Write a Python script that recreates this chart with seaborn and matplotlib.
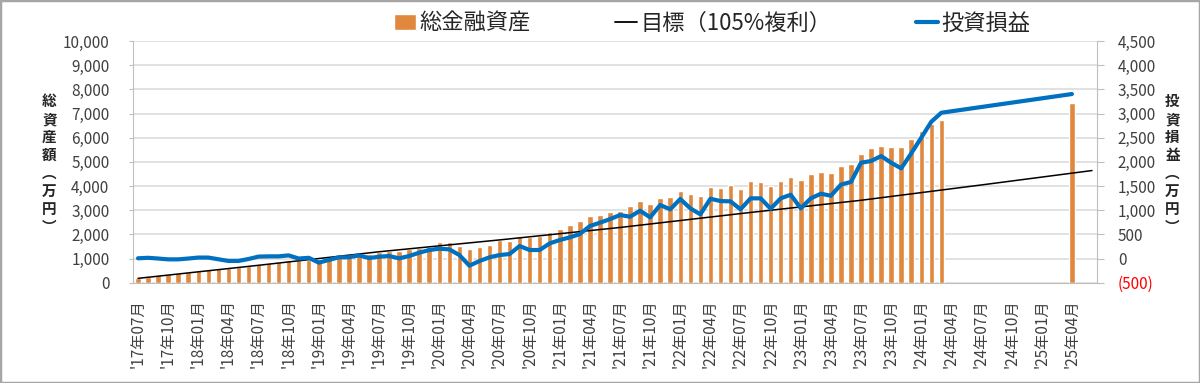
import numpy as np
import pandas as pd
import matplotlib
matplotlib.use("Agg")
import matplotlib.pyplot as plt
from matplotlib.patches import Patch, Rectangle
from matplotlib.lines import Line2D
import seaborn as sns

# ---- categories: every month from 2017/07 to 2025/06 ----
months = [f"'{d:%y}年{d:%m}月" for d in pd.date_range("2017-07-01", "2025-06-01", freq="MS")]

# ---- 総金融資産 (万円), monthly up to 2024/03 plus 2025/04 ----
asset_months = months[:81] + ["'25年04月"]
asset_values = [
    207, 250, 318, 347, 414, 455, 497, 554, 596, 590, 637, 703,
    761, 827, 856, 939, 939, 940, 968, 1000, 1105, 1146, 1233, 1200,
    1283, 1324, 1310, 1380, 1448, 1490, 1697, 1697, 1531, 1407, 1465, 1572,
    1767, 1738, 1932, 1878, 1932, 2098, 2222, 2374, 2553, 2747, 2788, 2915,
    2966, 3173, 3367, 3243, 3504, 3533, 3794, 3670, 3587, 3947, 3918, 4030,
    3863, 4195, 4180, 4001, 4220, 4386, 4249, 4485, 4593, 4551, 4828, 4930,
    5339, 5573, 5656, 5601, 5615, 5946, 6277, 6553, 6745,
    7448,
]

# ---- 投資損益 (万円), right axis ----
pnl_months = asset_months
pnl_values = [
    5, 15, 0, -17, -17, 0, 20, 20, -15, -50, -50, -10,
    40, 45, 45, 65, 0, 15, -85, -30, 25, 25, 65, 10,
    37, 52, 4, 52, 120, 176, 203, 190, 72, -148, -52, 25,
    72, 93, 258, 176, 176, 314, 383, 438, 507, 672, 741, 815,
    900, 865, 989, 852, 1107, 1018, 1231, 1038, 914, 1237, 1189, 1183,
    1018, 1245, 1245, 1030, 1245, 1320, 1038, 1245, 1341, 1299, 1528, 1585,
    1982, 2017, 2120, 1982, 1865, 2175, 2500, 2830, 3016,
    3403,
]

# ---- 目標 (105%複利), read at yearly points ----
target_months = ["'17年07月", "'18年07月", "'19年07月", "'20年07月", "'21年07月",
                 "'22年07月", "'23年07月", "'24年07月", "'25年06月"]
target_values = [180, 720, 1280, 1770, 2285, 2860, 3410, 4045, 4640]

plt.rcParams["font.family"] = ["Noto Sans CJK JP", "DejaVu Sans"]
sns.set_style("white")
plt.rcParams["font.family"] = ["Noto Sans CJK JP", "DejaVu Sans"]

BAR_COLOR = "#E0883D"
BLUE = "#0070C0"
GRID = "#d9d9d9"
TXT = "#404040"

fig = plt.figure(figsize=(12, 3.83), dpi=100)
ax = fig.add_axes([133 / 1200, 1 - 282.7 / 383, (1097 - 133) / 1200, (282.7 - 41) / 383])

df_assets = pd.DataFrame({"month": asset_months, "value": asset_values})
sns.barplot(data=df_assets, x="month", y="value", order=months, color=BAR_COLOR,
            saturation=1, width=0.55, errorbar=None, ax=ax, zorder=2)

tpos = [months.index(m) for m in target_months]
sns.lineplot(x=tpos, y=target_values, ax=ax, color="black", lw=1.1, zorder=3)

ax.set_xlim(-0.5, len(months) - 0.5)
ax.set_ylim(0, 10000)
ax.set_yticks(np.arange(0, 10001, 1000))
ax.set_yticklabels([f"{v:,}" for v in range(0, 10001, 1000)])
ax.set_xticks(range(0, len(months), 3))
ax.set_xticklabels(months[::3], rotation=90, va="top", ha="center")
ax.set_xticks(np.arange(-0.5, len(months), 3), minor=True)
ax.tick_params(axis="x", which="major", length=0, pad=12, labelsize=11, labelcolor=TXT)
ax.tick_params(axis="x", which="minor", length=5, color="#bfbfbf", width=1)
ax.tick_params(axis="y", length=3, color="#bfbfbf", pad=14, labelsize=11, labelcolor=TXT)
ax.set_xlabel("")
ax.set_ylabel("")
ax.grid(axis="y", color=GRID, lw=1.1, zorder=0)
ax.set_axisbelow(True)
for s in ["top", "right"]:
    ax.spines[s].set_visible(False)
for s in ["left", "bottom"]:
    ax.spines[s].set_color("#bfbfbf")
if ax.get_legend():
    ax.get_legend().remove()

ax2 = ax.twinx()
ppos = [months.index(m) for m in pnl_months]
sns.lineplot(x=ppos, y=pnl_values, ax=ax2, color=BLUE, lw=3, zorder=4)
ax2.set_ylim(-500, 4500)
rticks = np.arange(-500, 4501, 500)
ax2.set_yticks(rticks)
ax2.set_yticklabels([f"({-v:,})" if v < 0 else f"{v:,}" for v in rticks])
ax2.get_yticklabels()[0].set_color("red")
ax2.tick_params(axis="y", length=5, color="#bfbfbf", pad=10, labelsize=11, labelcolor=TXT)
ax2.get_yticklabels()[0].set_color("red")
ax2.set_ylabel("")
for s in ["top", "left", "bottom"]:
    ax2.spines[s].set_visible(False)
ax2.spines["right"].set_color("#bfbfbf")
if ax2.get_legend():
    ax2.get_legend().remove()

# vertical axis titles
fig.text(49.5 / 1200, 1 - 164 / 383, "\n".join("総資産額︵万円︶"), ha="center", va="center",
         fontsize=10.5, fontweight="bold", linespacing=1.15, color="#262626")
fig.text(1172.5 / 1200, 1 - 164 / 383, "\n".join("投資損益︵万円︶"), ha="center", va="center",
         fontsize=10.5, fontweight="bold", linespacing=1.15, color="#262626")

handles = [Patch(facecolor=BAR_COLOR), Line2D([], [], color="black", lw=1.3),
           Line2D([], [], color=BLUE, lw=3)]
labels = ["総金融資産", "目標（105%複利）", "投資損益"]
fig.legend(handles, labels, loc="center", bbox_to_anchor=(712 / 1200, 1 - 23.5 / 383), ncol=3,
           frameon=False, fontsize=16, handlelength=1.0, handletextpad=0.15, columnspacing=3.8,
           labelcolor="#262626")

fig.patches.append(Rectangle((0, 0), 1, 1, transform=fig.transFigure, fill=False,
                             edgecolor="#a6a6a6", lw=2.5))

fig.savefig("out.png", dpi=100)
